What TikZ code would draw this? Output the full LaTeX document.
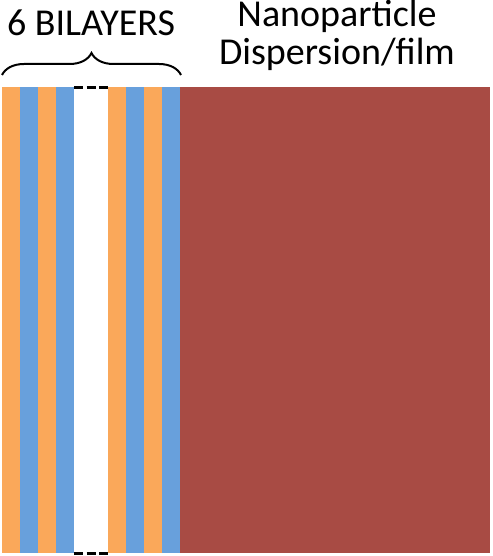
\documentclass[tikz,border=0pt]{standalone}
\usepackage{fontspec}
\setmainfont{Carlito}
\usepackage{xcolor}
\usetikzlibrary{positioning,decorations.pathreplacing}

\definecolor{layerorange}{RGB}{250,168,90}
\definecolor{layerblue}{RGB}{104,160,220}
\definecolor{filmred}{RGB}{168,75,68}

\tikzset{
    label/.style={font=\fontsize{38}{40}\selectfont, inner sep=0pt, align=center},
    gapdash/.style={line width=3pt, dash pattern=on 9pt off 3.5pt},
}

\begin{document}
\begin{tikzpicture}[x=1pt,y=-1pt]
\useasboundingbox (0,0) rectangle (492,556);
% film
\fill[filmred] (180,87) rectangle (490,553);
% bilayers
\foreach \x/\c in {2/layerorange,20/layerblue,38/layerorange,56/layerblue,
                   108/layerorange,126/layerblue,144/layerorange,162/layerblue}
    \fill[\c] (\x,87) rectangle ++(18,466);
% gap
\coordinate (gt1) at (74,88);
\coordinate (gt2) at (108,88);
\coordinate (gb1) at (74,553);
\coordinate (gb2) at (108,553);
\draw[gapdash] (gt1) -- (gt2);
\draw[gapdash] (gb1) -- (gb2);
% brace
\coordinate (bl) at (2,75);
\coordinate (br) at (181,75);
\draw[line width=2pt, decorate, decoration={brace, amplitude=22pt}] (bl) -- (br)
    coordinate[midway] (bm);
\node[label, anchor=base] (bilayers) at (91,36) {6 BILAYERS};
\node[label, anchor=base] (np) at (337,27) {Nanoparticle};
\node[label, below=38pt of np.base, anchor=base] (disp) {Dispersion/film};
\end{tikzpicture}
\end{document}
